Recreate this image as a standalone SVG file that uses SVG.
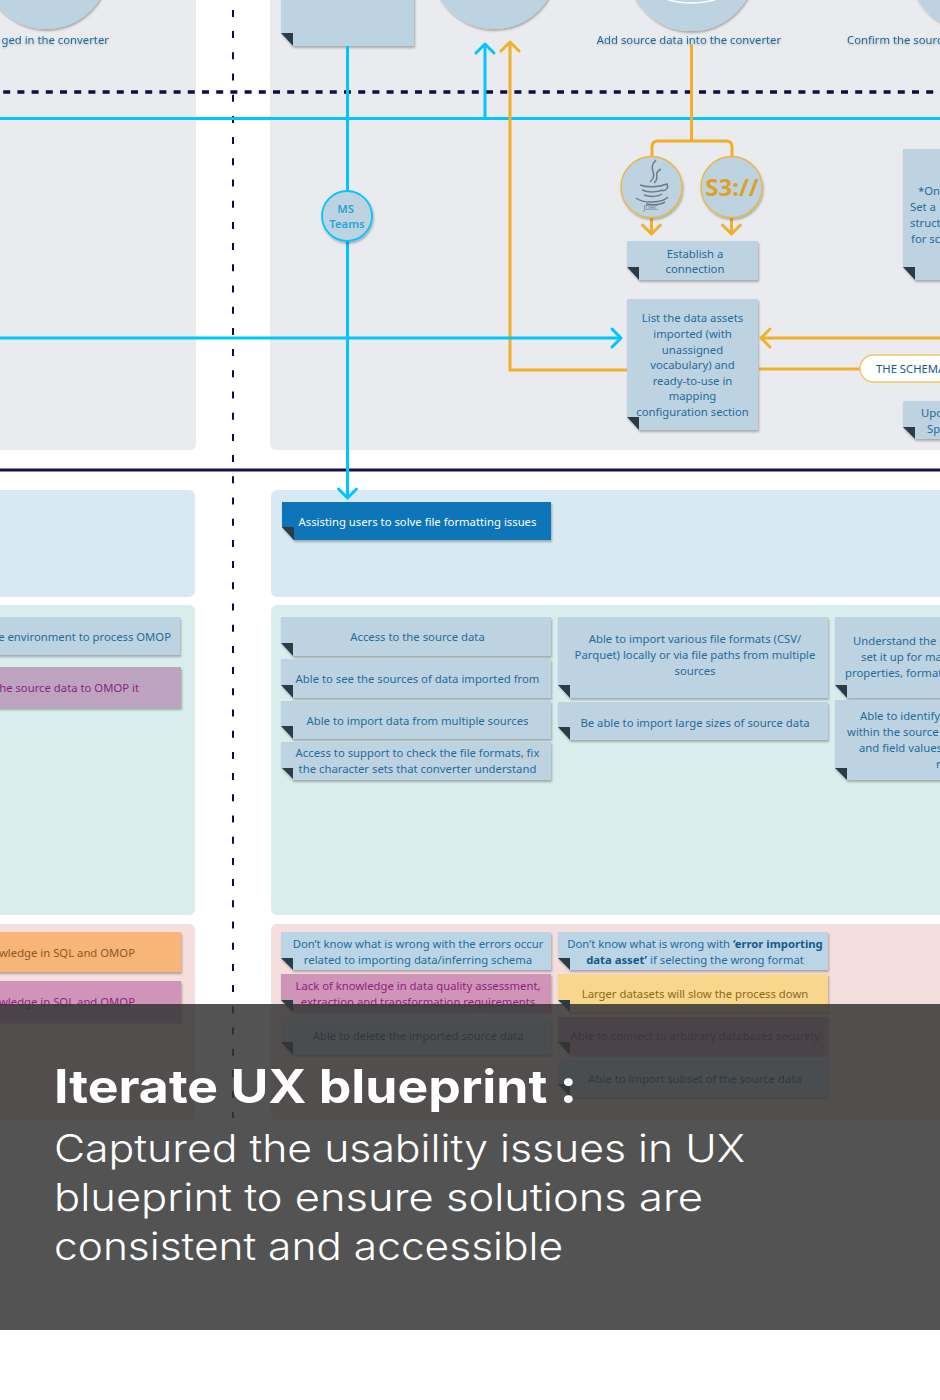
<svg xmlns="http://www.w3.org/2000/svg" width="940" height="1400" viewBox="0 0 940 1400">
<style>
text{font-family:"Noto Sans","Open Sans","Liberation Sans",sans-serif;font-size:11.3px;fill:#1f6c9c}
.m{text-anchor:middle}.e{text-anchor:end}
.pg{fill:#e9ebee}.pb{fill:#d9e9f3}.pt{fill:#d9edec}.pr{fill:#f4dede}
.n{fill:#bed3e1;filter:url(#sh)}
.nb{fill:#bcd5e6;filter:url(#sh)}
.pk{fill:#bda3c0;filter:url(#sh)}
.mg{fill:#d094b8;filter:url(#sh)}
.or{fill:#f9b478;filter:url(#sh)}
.ye{fill:#f8d78c;filter:url(#sh)}
.pu{fill:#c49ab8;filter:url(#sh)}
.d{fill:#0b74b8;filter:url(#sh)}
.f{fill:#2b3c48}
.c{fill:none;stroke:#00c6fb;stroke-width:3}
.g{fill:none;stroke:#f2b02a;stroke-width:3}
.ca{marker-end:url(#ac)}.ga{marker-end:url(#ag)}
.purple{fill:#8e1f82}
.circ{fill:#bed3e1;filter:url(#sh)}
.lab{filter:url(#ts)}
.j{fill:none;stroke:#6f7b86;stroke-width:1.500}
.cap{font-family:Inter,"Open Sans",sans-serif;font-size:38px;font-weight:300;fill:#fff}
</style>
<defs>
<filter id="sh" x="-20%" y="-20%" width="140%" height="140%"><feDropShadow dx="1" dy="2" stdDeviation="1" flood-color="#000" flood-opacity=".28"/></filter>
<filter id="ts" x="-10%" y="-40%" width="120%" height="180%"><feDropShadow dx="0" dy="1" stdDeviation="1" flood-color="#000" flood-opacity=".22"/></filter>
<marker id="ac" markerUnits="userSpaceOnUse" viewBox="-13 -13 26 26" markerWidth="26" markerHeight="26" orient="auto" refX="0" refY="0"><path d="M-9-9 0 0-9 9" fill="none" stroke="#00c6fb" stroke-width="3" stroke-linecap="round" stroke-linejoin="round"/></marker>
<marker id="ag" markerUnits="userSpaceOnUse" viewBox="-13 -13 26 26" markerWidth="26" markerHeight="26" orient="auto" refX="0" refY="0"><path d="M-9-9 0 0-9 9" fill="none" stroke="#f2b02a" stroke-width="3" stroke-linecap="round" stroke-linejoin="round"/></marker>
</defs>
<rect width="940" height="1400" fill="#fff"/>

<g id="panels">
<rect class="pg" x="-20" y="-20" width="216" height="470" rx="6"/>
<rect class="pg" x="270" y="-20" width="700" height="470" rx="6"/>
<rect class="pb" x="-20" y="490" width="215" height="107" rx="6"/>
<rect class="pb" x="271" y="490" width="699" height="107" rx="6"/>
<rect class="pt" x="-20" y="605" width="215" height="310" rx="6"/>
<rect class="pt" x="271" y="605" width="699" height="310" rx="6"/>
<rect class="pr" x="-20" y="924" width="215" height="196" rx="6"/>
<rect class="pr" x="271" y="924" width="699" height="196" rx="6"/>
</g>

<g id="circle-1"><circle class="circ" cx="46" cy="-34" r="63"/><text class="e lab" x="109" y="44">ged in the converter</text></g>
<g id="circle-2"><circle class="circ" cx="494" cy="-34" r="63"/></g>
<g id="circle-3"><circle class="circ" cx="691" cy="-33" r="64"/><path d="M668 0Q691 6 715 0" fill="none" stroke="#fff" stroke-width="1.500"/><text class="m lab" x="689" y="44">Add source data into the converter</text></g>
<g id="circle-4"><circle class="circ" cx="973" cy="-33" r="64"/><text class="lab" x="847" y="44">Confirm the sourc</text></g>

<g id="note-top"><path class="n" d="M281-10H414V46H293L281 33Z"/><path class="f" d="M281 33H293V46Z"/><text class="m" x="350" y="-3">g</text></g>

<g id="connectors">
<path d="M0 92H940" fill="none" stroke="#140a48" stroke-width="3.500" stroke-dasharray="7 7.200" stroke-dashoffset="11"/>
<path d="M233 9.900V1118" fill="none" stroke="#140a48" stroke-width="2" stroke-dasharray="7 14.200"/>
<path d="M0 470H940" fill="none" stroke="#1a1050" stroke-width="3"/>
<path class="c" d="M0 118.500H940"/>
<path class="c ca" d="M485 118V44"/>
<path class="g ga" d="M627 370H510V42"/>
<path class="c ca" d="M347.500 46V498"/>
<path class="c ca" d="M0 338H621"/>
<path class="g ga" d="M940 338H761"/>
<path class="g" d="M759 369H860"/>
<path class="g" d="M691.500 44V141"/>
<path class="g" d="M652 157V147Q652 141 658 141H726Q732 141 732 147V157"/>
<path class="g ga" d="M651.500 218V234"/>
<path class="g ga" d="M731.500 218V234"/>
</g>

<g id="ms-teams"><circle cx="347" cy="216" r="25" fill="#bed3e1" stroke="#00c6fb" stroke-width="1.800" filter="url(#sh)"/><text class="m" x="345.500" y="213" style="fill:#1ea6d6;font-weight:600">MS</text><text class="m" x="347" y="228" style="fill:#1ea6d6;font-weight:600">Teams</text></g>

<g id="jdbc"><circle cx="651.500" cy="187" r="30.500" fill="#bed3e1" stroke="#eab64a" stroke-width="1.500" filter="url(#sh)"/>
<path class="j" d="M656 160C646 170 660 173 650 182M661 169C652 174 661 177 654 183"/>
<path class="j" d="M640 185C648 188 660 187 667 184C669 188 666 190 663 191M642 190C649 193 658 192 663 190M644 195C650 197 658 197 662 194M636 198C644 204 662 203 668 197M646 204C652 205 660 205 665 202"/>
<text class="m" x="651" y="210" style="font-size:6.500px;fill:#6f7b86">JDBC</text></g>
<g id="s3"><circle cx="731.500" cy="187" r="30.500" fill="#bed3e1" stroke="#eab64a" stroke-width="1.500" filter="url(#sh)"/><text class="m" x="732" y="196" style="font-size:24px;font-weight:700;fill:#dfa125">S3://</text></g>

<g id="note-establish"><path class="n" d="M627 241H758V280H639L627 267Z"/><path class="f" d="M627 267H639V280Z"/><text class="m" x="695" y="258">Establish a</text><text class="m" x="695" y="273">connection</text></g>
<g id="note-list"><path class="n" d="M627 299H758V430H639L627 417Z"/><path class="f" d="M627 417H639V430Z"/>
<text class="m" x="692.500" y="322">List the data assets</text><text class="m" x="692.500" y="338">imported (with</text><text class="m" x="692.500" y="354">unassigned</text><text class="m" x="692.500" y="369">vocabulary) and</text><text class="m" x="692.500" y="385">ready-to-use in</text><text class="m" x="692.500" y="400">mapping</text><text class="m" x="692.500" y="416">configuration section</text></g>
<g id="note-right-1"><path class="n" d="M903 149H960V280H915L903 267Z"/><path class="f" d="M903 267H915V280Z"/><text x="918" y="195">*On</text><text x="910" y="211">Set a</text><text x="910" y="227">struct</text><text x="911" y="243">for sc</text></g>
<g id="pill-schema"><rect x="860" y="355" width="110" height="27" rx="13.500" fill="#fff" stroke="#f2c66a" stroke-width="1.500"/><text x="876" y="373" style="fill:#135a8c">THE SCHEMA</text></g>
<g id="note-right-2"><path class="n" d="M903 401H960V439H915L903 427Z"/><path class="f" d="M903 427H915V439Z"/><text x="921" y="417">Upo</text><text x="927" y="433">Sp</text></g>

<g id="note-assist"><path class="d" d="M282 502H551V540H294L282 527Z"/><path class="f" d="M282 527H294V540Z"/><text class="m" x="417.500" y="526" style="fill:#fff">Assisting users to solve file formatting issues</text></g>

<g id="note-l1"><rect class="n" x="-10" y="617" width="190" height="38"/><text class="e" x="171" y="641">e environment to process OMOP</text></g>
<g id="note-l2"><rect class="pk" x="-10" y="667" width="191" height="41"/><text class="e purple" x="139" y="692">he source data to OMOP it</text></g>

<g id="note-c1-1"><path class="n" d="M281 617H551V656H293L281 643Z"/><path class="f" d="M281 643H293V656Z"/><text class="m" x="417.500" y="641">Access to the source data</text></g>
<g id="note-c1-2"><path class="n" d="M281 659H551V698H293L281 685Z"/><path class="f" d="M281 685H293V698Z"/><text class="m" x="417.500" y="683">Able to see the sources of data imported from</text></g>
<g id="note-c1-3"><path class="n" d="M281 701H551V739H293L281 726Z"/><path class="f" d="M281 726H293V739Z"/><text class="m" x="417.500" y="725">Able to import data from multiple sources</text></g>
<g id="note-c1-4"><path class="n" d="M281 742H551V780H293L281 767Z"/><path class="f" d="M282 768H293V779Z"/><text class="m" x="417.500" y="757">Access to support to check the file formats, fix</text><text class="m" x="417.500" y="773">the character sets that converter understand</text></g>

<g id="note-c2-1"><path class="n" d="M558 617H828V698H570L558 685Z"/><path class="f" d="M558 685H570V698Z"/><text class="m" x="695" y="643">Able to import various file formats (CSV/</text><text class="m" x="695" y="659">Parquet) locally or via file paths from multiple</text><text class="m" x="695" y="675">sources</text></g>
<g id="note-c2-2"><path class="n" d="M558 702H828V740H570L558 727Z"/><path class="f" d="M558 727H570V740Z"/><text class="m" x="695" y="727">Be able to import large sizes of source data</text></g>
<g id="note-c3-1"><path class="n" d="M835 617H960V698H847L835 685Z"/><path class="f" d="M835 685H847V698Z"/><text x="853" y="645">Understand the s</text><text x="861" y="661">set it up for ma</text><text x="845" y="677">properties, format</text></g>
<g id="note-c3-2"><path class="n" d="M835 700H960V780H847L835 768Z"/><path class="f" d="M835 768H847V780Z"/><text x="860" y="720">Able to identify</text><text x="847" y="736">within the source</text><text x="859" y="752">and field values</text><text x="936" y="768">r</text></g>

<g id="note-l3"><rect class="or" x="-10" y="932" width="191" height="40"/><text class="e" x="135" y="957" style="fill:#8a5a28">wledge in SQL and OMOP</text></g>
<g id="note-l4"><rect class="mg" x="-10" y="981" width="191" height="41"/><text class="e purple" x="135" y="1006">wledge in SQL and OMOP</text></g>

<g id="note-p1"><path class="nb" d="M281 932H551V970H293L281 958Z"/><path class="f" d="M281 958H293V970Z"/><text class="m" x="418" y="948">Don’t know what is wrong with the errors occur</text><text class="m" x="418" y="964">related to importing data/inferring schema</text></g>
<g id="note-p2"><path class="nb" d="M558 932H828V970H570L558 958Z"/><path class="f" d="M558 958H570V970Z"/><text class="m" x="695" y="948">Don’t know what is wrong with <tspan style="font-weight:700;fill:#135a8c">‘error importing</tspan></text><text class="m" x="695" y="964"><tspan style="font-weight:700;fill:#135a8c">data asset’</tspan> if selecting the wrong format</text></g>
<g id="note-p3"><path class="mg" d="M281 974H551V1012H293L281 1000Z"/><path class="f" d="M281 1000H293V1012Z"/><text class="m purple" x="418" y="990">Lack of knowledge in data quality assessment,</text><text class="m purple" x="418" y="1006">extraction and transformation requirements</text></g>
<g id="note-p4"><path class="ye" d="M558 974H828V1012H570L558 1000Z"/><path class="f" d="M558 1000H570V1012Z"/><text class="m" x="695" y="998" style="fill:#8a6a20">Larger datasets will slow the process down</text></g>
<g id="note-p5"><path class="n" d="M281 1017H551V1055H293L281 1042Z"/><path class="f" d="M281 1042H293V1055Z"/><text class="m" x="418" y="1040" style="fill:#10507c">Able to delete the imported source data</text></g>
<g id="note-p6"><path class="pu" d="M558 1017H828V1055H570L558 1042Z"/><path class="f" d="M558 1042H570V1055Z"/><text class="m purple" x="695" y="1040">Able to connect to arbitrary databases securely</text></g>
<g id="note-p7"><path class="n" d="M558 1059H828V1097H570L558 1084Z"/><path class="f" d="M558 1084H570V1097Z"/><text class="m" x="695" y="1083" style="fill:#10507c">Able to import subset of the source data</text></g>

<rect id="overlay" x="0" y="1004" width="940" height="326" fill="#353535" fill-opacity=".85"/>
<g id="caption">
<text class="cap" x="54" y="1103" textLength="523" lengthAdjust="spacingAndGlyphs" style="font-size:46px;font-weight:700">Iterate UX blueprint :</text>
<text class="cap" x="54" y="1162" textLength="691" lengthAdjust="spacingAndGlyphs">Captured the usability issues in UX</text>
<text class="cap" x="54" y="1211" textLength="649" lengthAdjust="spacingAndGlyphs">blueprint to ensure solutions are</text>
<text class="cap" x="54" y="1260" textLength="509" lengthAdjust="spacingAndGlyphs">consistent and accessible</text>
</g>
</svg>
